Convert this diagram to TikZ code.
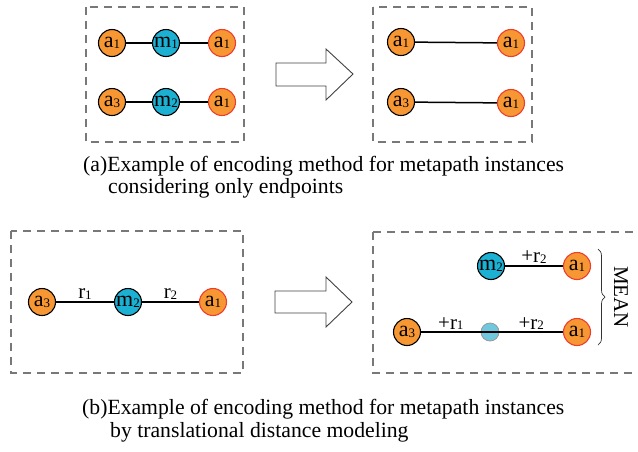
\documentclass[tikz,border=0pt]{standalone}
\usepackage{fontspec}
\setmainfont{Liberation Serif}
\usetikzlibrary{decorations.pathreplacing}
\definecolor{nodeorange}{RGB}{247,151,52}
\definecolor{nodecyan}{RGB}{28,176,210}
\definecolor{lightcyan}{RGB}{112,200,222}
\definecolor{rimred}{RGB}{236,62,46}
\definecolor{boxgray}{RGB}{120,120,120}
\newcommand{\lbl}[2]{#1\raisebox{-0.6pt}{\fontsize{13}{13}\selectfont #2}}
\tikzset{
  vtx/.style={circle, draw=black, line width=1.1pt, minimum size=27pt, inner sep=0pt,
              font=\fontsize{22}{22}\selectfont},
  anode/.style={vtx, fill=nodeorange},
  tnode/.style={vtx, fill=nodeorange, draw=rimred},
  mnode/.style={vtx, fill=nodecyan},
  ghost/.style={circle, draw=gray!80, line width=0.8pt, fill=lightcyan, minimum size=18pt, inner sep=0pt},
  link/.style={line width=1.5pt, black},
  frame/.style={draw=boxgray, line width=1.1pt, dash pattern=on 8pt off 6pt},
  bigarrow/.style={draw=black!75, line width=0.9pt, line join=miter},
  rel/.style={font=\fontsize{21}{21}\selectfont, above=1pt, inner sep=1pt},
  caption/.style={font=\fontsize{21.7}{21.7}\selectfont, anchor=base west, inner sep=0pt}
}
\begin{document}
\begin{tikzpicture}[x=1pt, y=-1pt]
\useasboundingbox (0,0) rectangle (638,451);

% dashed frames
\draw[frame] (86,7) rectangle (244,142);
\draw[frame] (373,7) rectangle (532,142);
\draw[frame] (11,231) rectangle (243,373);
\begin{scope}
\clip (0,0) rectangle (638,451);
\draw[frame] (373,232) -- (650,232);
\draw[frame] (373,232) -- (373,373) -- (650,373);
\end{scope}

% (a) full instances
\node[anode] (a1) at (112,43) {\lbl{a}{1}};
\node[mnode] (m1) at (166,43) {\lbl{m}{1}};
\node[tnode] (t1) at (222,43) {\lbl{a}{1}};
\node[anode] (a3) at (112,102) {\lbl{a}{3}};
\node[mnode] (m2) at (166,102) {\lbl{m}{2}};
\node[tnode] (t2) at (222,102) {\lbl{a}{1}};
\draw[link] (a1) -- (m1) -- (t1);
\draw[link] (a3) -- (m2) -- (t2);

% (a) endpoints only
\node[anode] (ea1) at (401,42) {\lbl{a}{1}};
\node[tnode] (et1) at (511,43) {\lbl{a}{1}};
\node[anode] (ea3) at (401,102) {\lbl{a}{3}};
\node[tnode] (et2) at (511,103) {\lbl{a}{1}};
\draw[link] (ea1) -- (et1);
\draw[link] (ea3) -- (et2);

% hollow arrows
\draw[bigarrow] (276,63) -- (326,63) -- (326,49) -- (353,74) -- (326,100) -- (326,86) -- (276,86) -- cycle;
\draw[bigarrow] (275,291) -- (326,291) -- (326,277) -- (352,302) -- (326,327) -- (326,313) -- (275,313) -- cycle;

% (b) instance with relations
\node[anode] (b3) at (42,302) {\lbl{a}{3}};
\node[mnode] (bm) at (128,302) {\lbl{m}{2}};
\node[tnode] (b1) at (213,302) {\lbl{a}{1}};
\draw[link] (b3) -- node[rel] {\lbl{r}{1}} (bm);
\draw[link] (bm) -- node[rel] {\lbl{r}{2}} (b1);

% (b) translational paths
\node[mnode] (cm) at (491,266) {\lbl{m}{2}};
\node[tnode] (c1) at (577,266) {\lbl{a}{1}};
\draw[link] (cm) -- node[rel] {+\lbl{r}{2}} (c1);
\node[ghost] (cg) at (490,332) {};
\node[anode] (c3) at (407,332) {\lbl{a}{3}};
\node[tnode] (c2) at (577,332) {\lbl{a}{1}};
\draw[link] (c3) -- (c2);
\path (c3) -- node[rel] {+\lbl{r}{1}} (cg);
\path (cg) -- node[rel] {+\lbl{r}{2}} (c2);

% averaging brace
\coordinate (btop) at (598,249);
\coordinate (bbot) at (598,345);
\draw[black!80, line width=0.7pt, decorate, decoration={brace, amplitude=7pt}] (btop) -- (bbot);
\node[rotate=-90, font=\fontsize{21}{21}\selectfont, inner sep=0pt] (mean) at (621,297) {MEAN};

% captions
\node[caption] (capa1) at (83,171) {(a)Example of encoding method for metapath instances};
\node[caption] (capa2) at (108,193) {considering only endpoints};
\node[caption] (capb1) at (82,414) {(b)Example of encoding method for metapath instances};
\node[caption] (capb2) at (110,437) {by translational distance modeling};
\end{tikzpicture}
\end{document}
